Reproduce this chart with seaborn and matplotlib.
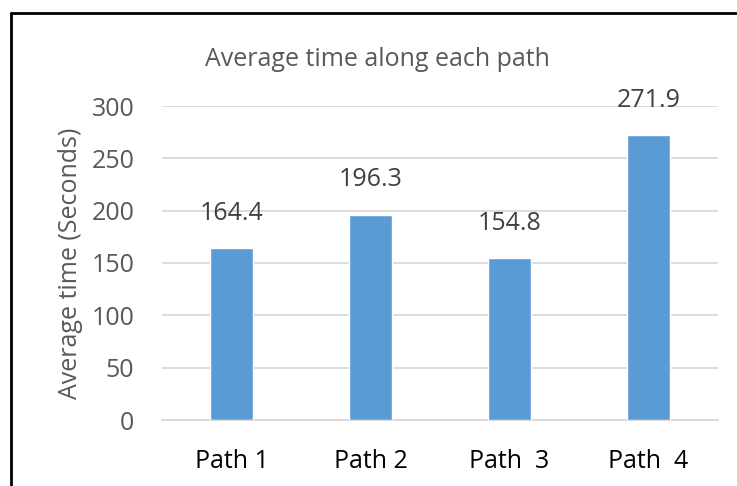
import matplotlib
matplotlib.use("Agg")
import matplotlib.pyplot as plt
import seaborn as sns
import pandas as pd
from matplotlib.lines import Line2D

# 데이터
paths = ["Path 1", "Path 2", "Path  3", "Path  4"]
avg_time = [164.4, 196.3, 154.8, 271.9]
y_ticks = [0, 50, 100, 150, 200, 250, 300]

df = pd.DataFrame({"path": paths, "time": avg_time})

sns.set_theme(style="white")
plt.rcParams['font.family'] = ['Open Sans', 'DejaVu Sans']

fig = plt.figure(figsize=(7.37, 4.86), dpi=100)
ax = fig.add_axes([162/737, 1-420/486, (718-162)/737, (420-106)/486])

sns.barplot(data=df, x="path", y="time", color="#5B9BD5", width=0.31,
            saturation=1, ax=ax, zorder=3)

ax.set_ylim(0, 300)
ax.set_yticks(y_ticks)
ax.yaxis.grid(True, color="#D9D9D9", linewidth=1.3, zorder=0)
for s in ["top", "right", "left"]:
    ax.spines[s].set_visible(False)
ax.spines["bottom"].set_color("#D9D9D9")
ax.spines["bottom"].set_linewidth(1.3)
ax.tick_params(axis="y", labelsize=18, colors="#595959", length=0, pad=20)
ax.tick_params(axis="x", labelsize=18, labelcolor="black", length=0, pad=21)
ax.set_xlabel("")
ax.set_ylabel("Average time (Seconds)", fontsize=18, color="#595959", labelpad=6)

# 값 표시
for i, v in enumerate(avg_time):
    ax.annotate(f"{v:.1f}", (i, v), xytext=(0, 25), textcoords="offset points",
                ha="center", va="center", fontsize=18, color="#404040")

fig.text(377/737, 1-60/486, "Average time along each path", ha="center", va="center",
         fontsize=18, color="#595959")

# 테두리
fig.add_artist(Line2D([11/737, 11/737], [0, 1-13/486], color="black", linewidth=2))
fig.add_artist(Line2D([11/737, 1], [1-13/486, 1-13/486], color="black", linewidth=2))

fig.savefig("out.png", dpi=100)
